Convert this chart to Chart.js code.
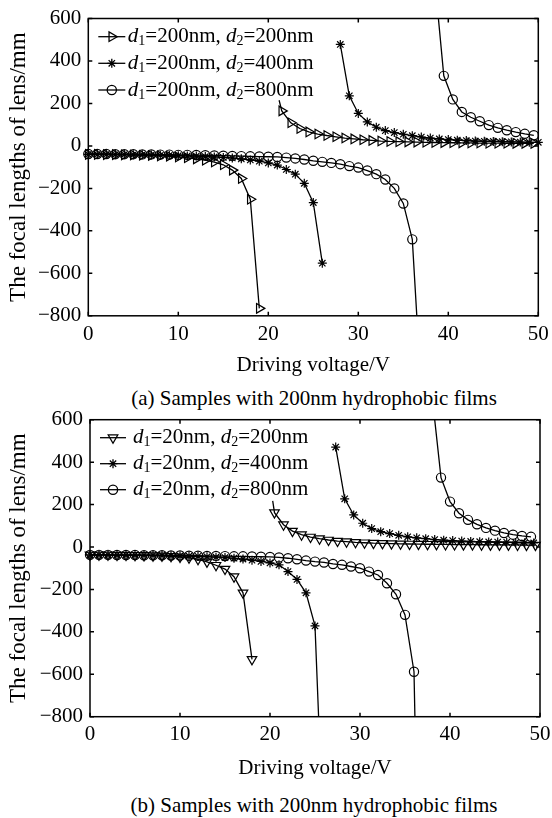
<!DOCTYPE html>
<html>
<head>
<meta charset="utf-8">
<script src="https://cdn.jsdelivr.net/npm/chart.js@4.4.1/dist/chart.umd.min.js"></script>
<style>
    body { margin: 0; background: #fff; }
    #wrap { position: relative; width: 552px; height: 818px; }
    canvas { position: absolute; left: 0; }
    .cap {
        position: absolute; left: 88px; width: 452px; text-align: center;
        font: 21px "Liberation Serif", "Times New Roman", serif; color: #000; line-height: 25px;
    }
</style>
</head>
<body>
<div id="wrap">
    <canvas id="chartA" width="552" height="385" style="top:0"></canvas>
    <div class="cap" style="top:386px">(a) Samples with 200nm hydrophobic films</div>
    <canvas id="chartB" width="552" height="390" style="top:400px"></canvas>
    <div class="cap" style="top:793px">(b) Samples with 200nm hydrophobic films</div>
</div>
<script>
// Driving voltage steps (V)
const volts = [0,1,2,3,4,5,6,7,8,9,10,11,12,13,14,15,16,17,18,19,20,21,22,23,24,25,
               26,27,28,29,30,31,32,33,34,35,36,37,38,39,40,41,42,43,44,45,46,47,48,49,50];
const yTicks = [-800, -600, -400, -200, 0, 200, 400, 600];

// (a) d1 = 200nm
const aD1 = ['200', '200', '200'];
const aD2 = ['200', '400', '800'];
const aTriNeg = [-40,-40,-41,-41,-42,-43,-44,-45,-47,-49,-52,-56,-61,-67,-76,-89,-114,-153,-251,-765];
const aTriPosV = [21.2,21.5,22.5,23.5,24.5,25.5,26.5,27.5,28.5,29.5,30.5,31.5,32.5,33.5,34.5,35.5,
                  36.5,37.5,38.5,39.5,40.5,41.5,42.5,43.5,44.5,45.5,46.5,47.5,48.5,49.5];
const aTriPos = [215,165,109,82,66,56,49,43,37,33,29,26,23,21,20,19,18,17,16,15.5,15,14.5,14,13.5,13,13,12.5,12,12,12];
const aStarNeg = [-40,-40,-40,-41,-41,-42,-42,-43,-44,-45,-46,-47,-48,-50,-52,-54,-57,-61,-66,-72,-80,
                  -90,-111,-133,-176,-267,-552];
const aStarPos = [478,236,153,113,88,72,63,55,48,42,37,33,30,27,25,23,22,21,20,19,18,17,17];
const aCircNeg = [-38,-38,-38,-39,-39,-39,-40,-40,-41,-41,-42,-42,-43,-44,-45,-46,-47,-48,-49,-50,
                  -51,-52,-55,-59,-64,-70,-75,-80,-86,-95,-102,-116,-133,-158,-200,-271,-440,-1160];
const aCircPosV = [38.5,39.5,40.5,41.5,42.5,43.5,44.5,45.5,46.5,47.5,48.5,49.5];
const aCircPos = [780,330,219,160,135,116,98,85,74,65,57,50];

// (b) d1 = 20nm
const bD1 = ['20', '20', '20'];
const bD2 = ['200', '400', '800'];
const bTriNeg = [-37,-37,-37,-38,-38,-39,-40,-41,-42,-44,-47,-51,-58,-70,-86,-104,-140,-216,-530];
const bTriPosV = [20.3,20.5,21.5,22.5,23.5,24.5,25.5,26.5,27.5,28.5,29.5,30.5,31.5,32.5,33.5,34.5,35.5,
                  36.5,37.5,38.5,39.5,40.5,41.5,42.5,43.5,44.5,45.5,46.5,47.5,48.5,49.5];
const bTriPos = [217,162,105,75,58,47,39,33,28,25,22,20,18,17,16,15,14,13.5,13,12.5,12,11.5,11,11,10.5,10,10,10,9.5,9,9];
const bStarNeg = [-37,-37,-37,-38,-38,-38,-39,-39,-40,-41,-42,-43,-44,-46,-48,-50,-53,-57,-62,-68,-75,
                  -84,-116,-153,-216,-372,-1440];
const bStarPosV = [27.3,28.3,29.3,30.3,31.3,32.3,33.3,34.3,35.3,36.3,37.3,38.3,39.3,40.3,41.3,42.3,43.3,
                   44.3,45.3,46.3,47.3,48.3,49.3];
const bStarPos = [471,227,151,112,87,72,63,55,48,43,39,35,32,30,28,26,25,24,23,22,21,20,19];
const bCircNeg = [-37,-37,-37,-38,-38,-38,-39,-39,-39,-40,-40,-41,-41,-42,-42,-43,-44,-44,-45,-46,-47,
                  -49,-53,-58,-64,-69,-73,-80,-84,-92,-100,-116,-132,-171,-223,-320,-588,-2700];
const bCircPos = [717,327,214,159,128,107,90,77,66,58,52,48];

const FONT = '"Liberation Serif", "Times New Roman", serif';

// marker styles
const triRight = { style: 'triangle', rot: 90, r: 5.5 };
const triDown = { style: 'triangle', rot: 180, r: 5.5 };
const star = { style: 'star', rot: 0, r: 4.5 };
const circ = { style: 'circle', rot: 0, r: 4.6 };

function pts(xs, ys) {
    return ys.map((v, i) => ({ x: xs[i], y: v }));
}

// one branch of a curve (the curves break at the focal-length singularity)
function branch(xs, ys, st, stub) {
    return {
        data: pts(xs, ys),
        borderColor: '#000',
        borderWidth: 1.3,
        backgroundColor: 'rgba(0,0,0,0)',
        pointStyle: st.style,
        pointRotation: st.rot,
        pointRadius: ys.map((v, i) => (stub && i === 0) ? 0 : st.r),
        pointBorderColor: '#000',
        pointBackgroundColor: 'rgba(0,0,0,0)',
        pointBorderWidth: 1.2,
        tension: 0,
        fill: false,
        clip: { left: 8, right: 8, top: 0, bottom: 0 }
    };
}

// box + inward ticks on all sides
const framePlugin = {
    id: 'frame',
    afterDatasetsDraw(chart) {
        const { ctx, chartArea: a, scales: { x, y } } = chart;
        ctx.save();
        ctx.strokeStyle = '#000';
        ctx.lineWidth = 1.5;
        ctx.strokeRect(a.left, a.top, a.right - a.left, a.bottom - a.top);
        ctx.beginPath();
        x.ticks.forEach(t => {
            const px = x.getPixelForValue(t.value);
            ctx.moveTo(px, a.bottom); ctx.lineTo(px, a.bottom - 4);
            ctx.moveTo(px, a.top); ctx.lineTo(px, a.top + 4);
        });
        y.ticks.forEach(t => {
            const py = y.getPixelForValue(t.value);
            ctx.moveTo(a.left, py); ctx.lineTo(a.left + 4, py);
            ctx.moveTo(a.right, py); ctx.lineTo(a.right - 4, py);
        });
        ctx.stroke();
        ctx.restore();
    }
};

// legend with italic d and subscripts
const richLegend = {
    id: 'richLegend',
    afterDatasetsDraw(chart, args, opts) {
        const { ctx, chartArea: a } = chart;
        opts.d1.forEach((d1, i) => {
            const y = a.top + opts.rowY[i];
            const st = opts.styles[i];
            ctx.save();
            ctx.strokeStyle = '#000';
            ctx.fillStyle = 'rgba(0,0,0,0)';
            ctx.lineWidth = 1.3;
            ctx.beginPath();
            ctx.moveTo(a.left + opts.lineX[0], y);
            ctx.lineTo(a.left + opts.lineX[1], y);
            ctx.stroke();
            Chart.helpers.drawPoint(ctx, { pointStyle: st.style, rotation: st.rot, radius: st.r, borderWidth: 1.2 },
                a.left + (opts.lineX[0] + opts.lineX[1]) / 2, y);
            ctx.fillStyle = '#000';
            ctx.textBaseline = 'middle';
            ctx.textAlign = 'left';
            const parts = [
                { t: 'd', f: 'italic 21px ' + FONT, dy: 0 },
                { t: '1', f: '14px ' + FONT, dy: 5 },
                { t: '=' + d1 + 'nm, ', f: '21px ' + FONT, dy: 0 },
                { t: 'd', f: 'italic 21px ' + FONT, dy: 0 },
                { t: '2', f: '14px ' + FONT, dy: 5 },
                { t: '=' + opts.d2[i] + 'nm', f: '21px ' + FONT, dy: 0 }
            ];
            let x = a.left + opts.textX;
            parts.forEach(p => {
                ctx.font = p.f;
                ctx.fillText(p.t, x, y + p.dy);
                x += ctx.measureText(p.t).width;
            });
            ctx.restore();
        });
    }
};

function makeChart(id, datasets, lay, legendOpts) {
    const tickFont = { family: FONT, size: 21 };
    return new Chart(document.getElementById(id), {
        type: 'line',
        data: { datasets },
        options: {
            responsive: false,
            animation: false,
            events: [],
            layout: { padding: { top: lay.top, right: lay.right, left: 0, bottom: 0 } },
            scales: {
                x: {
                    type: 'linear', min: 0, max: 50,
                    grid: { display: false, drawTicks: false },
                    border: { display: false },
                    ticks: { stepSize: 10, padding: lay.xTickPad, color: '#000', font: tickFont, maxRotation: 0 },
                    title: { display: true, text: 'Driving voltage/V', color: '#000', font: tickFont,
                             padding: { top: 0, bottom: lay.xTitlePad } },
                    afterFit(s) { s.height = lay.xHeight; s.paddingLeft = 0; s.paddingRight = 0; }
                },
                y: {
                    type: 'linear', min: -800, max: 600,
                    grid: { display: false, drawTicks: false },
                    border: { display: false },
                    afterBuildTicks(s) { s.ticks = yTicks.map(v => ({ value: v })); },
                    ticks: {
                        padding: 7, color: '#000', font: tickFont,
                        callback: v => (v < 0 ? '\u2212' + Math.abs(v) : String(v))
                    },
                    title: { display: true, text: 'The focal lengths of lens/mm', color: '#000',
                             font: { family: FONT, size: 23 }, padding: { top: 5, bottom: 0 } },
                    afterFit(s) { s.width = lay.left; s.paddingTop = 0; s.paddingBottom = 0; }
                }
            },
            plugins: {
                legend: { display: false },
                tooltip: { enabled: false },
                richLegend: legendOpts
            }
        },
        plugins: [framePlugin, richLegend]
    });
}

makeChart('chartA', [
    branch(volts.slice(0, 20), aTriNeg, triRight, false),
    branch(aTriPosV, aTriPos, triRight, true),
    branch(volts.slice(0, 27), aStarNeg, star, false),
    branch(volts.slice(28, 51), aStarPos, star, false),
    branch(volts.slice(0, 38), aCircNeg, circ, false),
    branch(aCircPosV, aCircPos, circ, false)
], { top: 18.5, right: 13.7, left: 88.3, xHeight: 69.2, xTickPad: 6, xTitlePad: 7.4 },
{ d1: aD1, d2: aD2, styles: [triRight, star, circ], rowY: [18.2, 44.8, 71.5], lineX: [10, 37], textX: 39.5 });

makeChart('chartB', [
    branch(volts.slice(0, 19), bTriNeg, triDown, false),
    branch(bTriPosV, bTriPos, triDown, true),
    branch(volts.slice(0, 27), bStarNeg, star, false),
    branch(bStarPosV, bStarPos, star, false),
    branch(volts.slice(0, 38), bCircNeg, circ, false),
    branch(volts.slice(38, 50), bCircPos, circ, false)
], { top: 19.7, right: 12, left: 90, xHeight: 73.3, xTickPad: 5, xTitlePad: 9.4 },
{ d1: bD1, d2: bD2, styles: [triDown, star, circ], rowY: [18, 44, 70], lineX: [10, 36], textX: 43 });
</script>
</body>
</html>
